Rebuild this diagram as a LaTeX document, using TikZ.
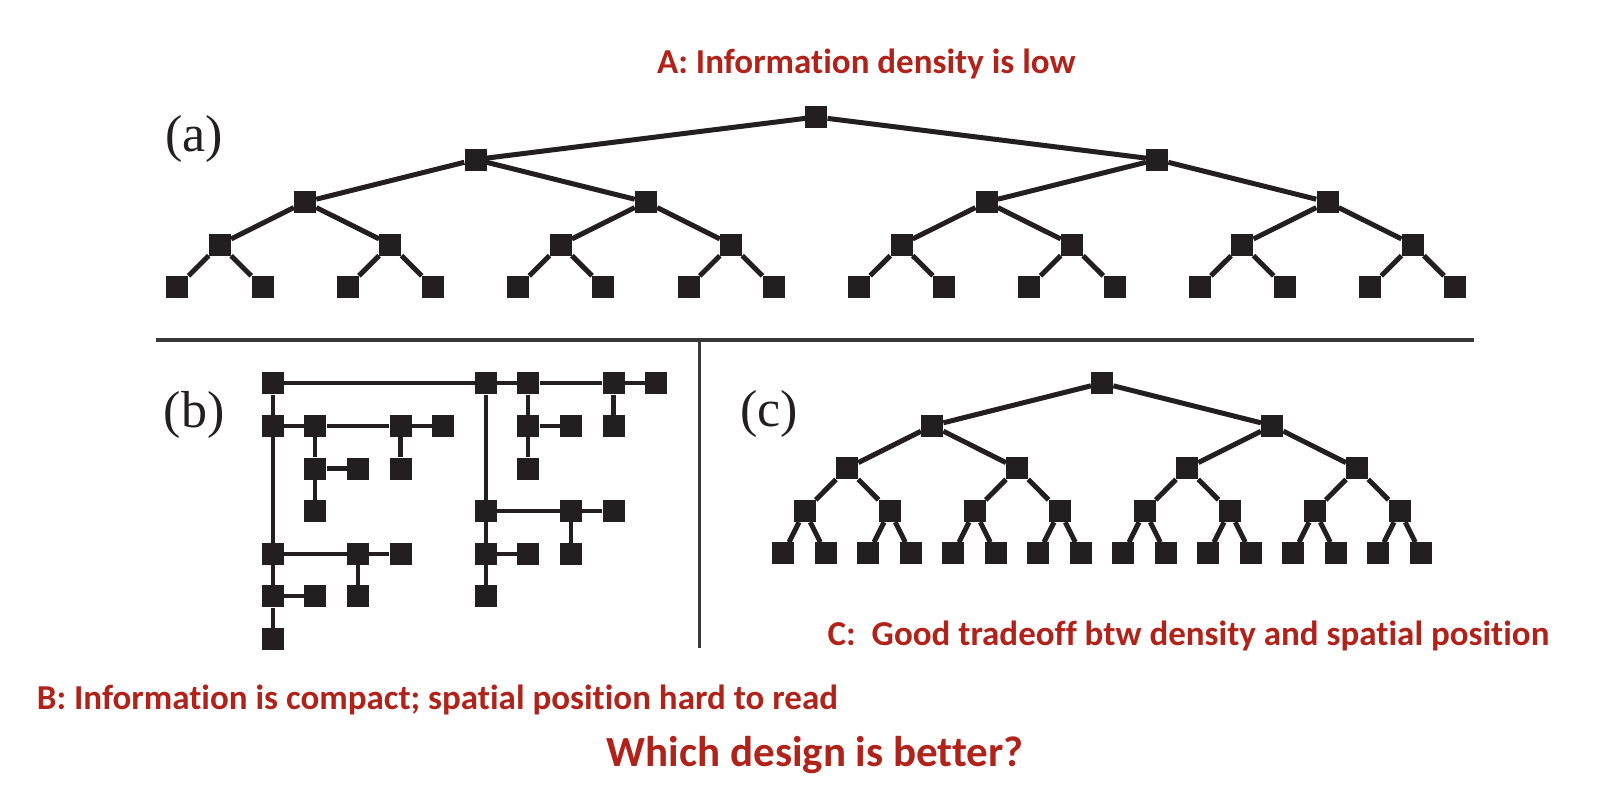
\documentclass[tikz,border=0pt]{standalone}
\usepackage{fontspec}
\newfontfamily\carlito[Ligatures=NoCommon]{Carlito}
\newfontfamily\lblserif{Liberation Serif}
\definecolor{slidered}{RGB}{176,35,26}
\definecolor{ink}{RGB}{35,31,32}
\begin{document}
\begin{tikzpicture}[x=1pt,y=-1pt,
  sq/.style={fill=ink,minimum size=22pt,inner sep=0pt,draw=none},
  edgeA/.style={draw=ink,line width=5pt},
  edgeB/.style={draw=ink,line width=4.3pt},
  sepline/.style={draw=black!78,line width=3.2pt},
  lbl/.style={font=\lblserif\fontsize{52}{54}\selectfont,inner sep=0pt,text=ink},
  redtxt/.style={font=\carlito\bfseries\fontsize{35}{40}\selectfont,text=slidered,inner sep=0pt,anchor=base west}]
\useasboundingbox (0,0) rectangle (1622,804);

% ---------- separators ----------
\coordinate (hl) at (156,340);
\coordinate (hr) at (1474,340);
\coordinate (vt) at (699.5,340);
\coordinate (vb) at (699.5,648);
\draw[sepline] (hl) -- (hr);
\draw[sepline] (vt) -- (vb);

% ---------- panel (a) ----------
\node[lbl] (la) at (194,138.5) {(a)};
\foreach \i in {0,...,15} \node[sq] (a4-\i) at ({177.3+85.2*\i},287) {};
\foreach \i in {0,...,7} \node[sq] (a3-\i) at ({177.3+85.2*(2*\i+0.5)},244.5) {};
\foreach \i in {0,...,3} \node[sq] (a2-\i) at ({177.3+85.2*(4*\i+1.5)},202) {};
\foreach \i in {0,...,1} \node[sq] (a1-\i) at ({177.3+85.2*(8*\i+3.5)},159.5) {};
\node[sq] (a0-0) at ({177.3+85.2*7.5},117) {};
\foreach \i in {0,...,7}{
  \pgfmathtruncatemacro\l{2*\i}\pgfmathtruncatemacro\r{2*\i+1}
  \draw[edgeA] (a3-\i) -- (a4-\l);
  \draw[edgeA] (a3-\i) -- (a4-\r);}
\foreach \i in {0,...,3}{
  \pgfmathtruncatemacro\l{2*\i}\pgfmathtruncatemacro\r{2*\i+1}
  \draw[edgeA] (a2-\i) -- (a3-\l);
  \draw[edgeA] (a2-\i) -- (a3-\r);}
\foreach \i in {0,...,1}{
  \pgfmathtruncatemacro\l{2*\i}\pgfmathtruncatemacro\r{2*\i+1}
  \draw[edgeA] (a1-\i) -- (a2-\l);
  \draw[edgeA] (a1-\i) -- (a2-\r);}
\draw[edgeA] (a0-0) -- (a1-0);
\draw[edgeA] (a0-0) -- (a1-1);

% ---------- panel (b) ----------
\node[lbl] (lb) at (194,415) {(b)};
\foreach \c/\r in {0/0,5/0,6/0,8/0,9/0,0/1,1/1,3/1,4/1,6/1,7/1,8/1,1/2,2/2,3/2,6/2,
                   1/3,5/3,7/3,8/3,0/4,2/4,3/4,5/4,6/4,7/4,0/5,1/5,2/5,5/5,0/6}
  \node[sq] (b\c-\r) at ({272.7+42.6*\c},{383.3+42.6*\r}) {};
\foreach \p/\q in {0-0/5-0,5-0/6-0,6-0/8-0,8-0/9-0,
                   0-0/0-1,0-1/0-4,0-4/0-5,0-5/0-6,
                   0-1/1-1,1-1/3-1,3-1/4-1,
                   1-1/1-2,1-2/1-3,1-2/2-2,3-1/3-2,
                   5-0/5-3,5-3/5-4,5-4/5-5,
                   6-0/6-1,6-1/6-2,6-1/7-1,8-0/8-1,
                   5-3/7-3,7-3/8-3,7-3/7-4,5-4/6-4,
                   0-4/2-4,2-4/3-4,2-4/2-5,0-5/1-5}
  \draw[edgeB] (b\p) -- (b\q);

% ---------- panel (c) ----------
\node[lbl] (lc) at (769,414) {(c)};
\foreach \i in {0,...,15} \node[sq] (c4-\i) at ({783.4+42.5*\i},553.4) {};
\foreach \i in {0,...,7} \node[sq] (c3-\i) at ({783.4+42.5*(2*\i+0.5)},511) {};
\foreach \i in {0,...,3} \node[sq] (c2-\i) at ({783.4+42.5*(4*\i+1.5)},468.2) {};
\foreach \i in {0,...,1} \node[sq] (c1-\i) at ({783.4+42.5*(8*\i+3.5)},425.6) {};
\node[sq] (c0-0) at ({783.4+42.5*7.5},383) {};
\foreach \i in {0,...,7}{
  \pgfmathtruncatemacro\l{2*\i}\pgfmathtruncatemacro\r{2*\i+1}
  \draw[edgeA] (c3-\i) -- (c4-\l);
  \draw[edgeA] (c3-\i) -- (c4-\r);}
\foreach \i in {0,...,3}{
  \pgfmathtruncatemacro\l{2*\i}\pgfmathtruncatemacro\r{2*\i+1}
  \draw[edgeA] (c2-\i) -- (c3-\l);
  \draw[edgeA] (c2-\i) -- (c3-\r);}
\foreach \i in {0,...,1}{
  \pgfmathtruncatemacro\l{2*\i}\pgfmathtruncatemacro\r{2*\i+1}
  \draw[edgeA] (c1-\i) -- (c2-\l);
  \draw[edgeA] (c1-\i) -- (c2-\r);}
\draw[edgeA] (c0-0) -- (c1-0);
\draw[edgeA] (c0-0) -- (c1-1);

% ---------- captions ----------
\node[redtxt] (tA) at (657,73.3) {A: Information density is low};
\node[redtxt] (tC) at (827.5,645) {C:\ \ Good tradeoff btw density and spatial position};
\node[redtxt] (tB) at (36.7,709.3) {B: Information is compact; spatial position hard to read};
\node[redtxt,font=\carlito\bfseries\fontsize{43}{48}\selectfont] (tQ) at (606.7,766.7) {Which design is better?};
\end{tikzpicture}
\end{document}
